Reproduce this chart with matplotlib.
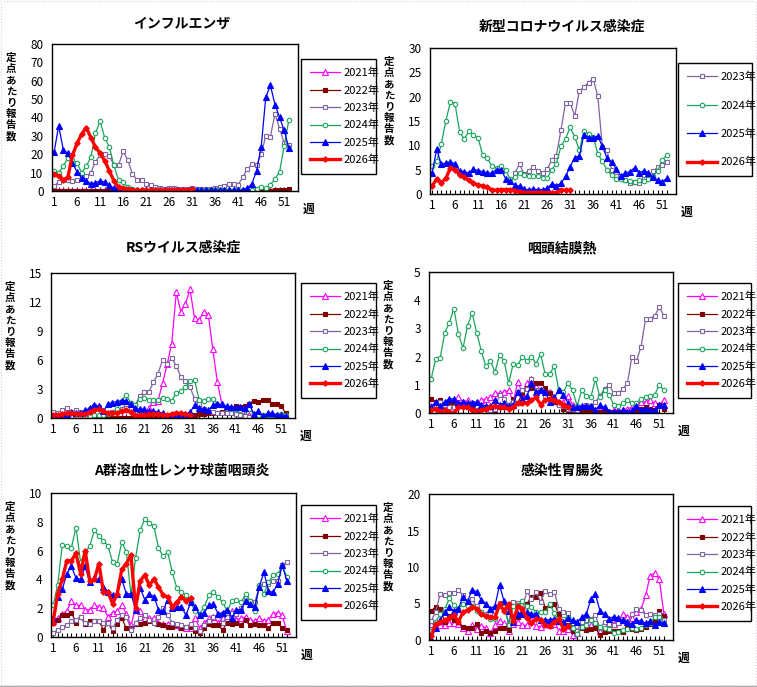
import numpy as np
import matplotlib
matplotlib.use("Agg")
import matplotlib.pyplot as plt
from matplotlib.patches import Rectangle
from matplotlib.lines import Line2D

plt.rcParams['font.family'] = ['Noto Sans CJK JP', 'DejaVu Sans']

# ---------------- data ----------------
weeks = list(range(1, 53))
week_ticks = [1, 6, 11, 16, 21, 26, 31, 36, 41, 46, 51]
years = ["2021年", "2022年", "2023年", "2024年", "2025年", "2026年"]
N = None

# インフルエンザ
flu_2021 = [0.0, 0.0, 0.0, 0.0, 0.0, 0.0, 0.0, 0.0, 0.0, 0.0, 0.0, 0.0, 0.0,
            0.0, 0.0, 0.0, 0.0, 0.0, 0.0, 0.0, 0.0, 0.0, 0.0, 0.0, 0.0, 0.0,
            0.0, 0.0, 0.0, 0.0, 0.0, 0.0, 0.0, 0.0, 0.0, 0.0, 0.0, 0.0, 0.0,
            0.0, 0.0, 0.0, 0.0, 0.0, 0.0, 0.0, 0.0, 0.0, 0.0, 0.0, 0.0, 0.0]
flu_2022 = [0.3, 0.2, 0.2, 0.2, 0.2, 0.2, 0.2, 0.2, 0.2, 0.2, 0.2, 0.2, 0.2,
            0.2, 0.2, 0.2, 0.1, 0.1, 0.1, 0.1, 0.1, 0.1, 0.1, 0.1, 0.1, 0.1,
            0.1, 0.1, 0.1, 0.1, 0.1, 0.1, 0.1, 0.1, 0.1, 0.1, 0.1, 0.1, 0.1,
            0.1, 0.1, 0.1, 0.1, 0.1, 0.1, 0.1, 0.2, 0.2, 0.3, 0.5, 0.8, 1.0]
flu_2023 = [2.5, 5.0, 6.0, 6.0, 5.5, 6.0, 6.5, 8.0, 10.0, 16.0, 19.5, 20.0, 19.0,
            14.0, 14.0, 21.5, 17.0, 9.5, 6.0, 6.0, 4.0, 3.0, 2.0, 1.5, 1.0, 1.5,
            1.5, 1.0, 1.0, 1.0, 1.5, 1.0, 1.0, 1.0, 1.0, 1.5, 2.0, 2.5, 4.0,
            4.0, 3.5, 7.5, 12.0, 14.5, 14.0, 20.0, 30.0, 29.5, 42.0, 34.0, 26.0, 25.0]
flu_2024 = [11.0, 10.0, 13.5, 18.0, 17.0, 15.0, 10.0, 13.5, 18.5, 31.5, 38.0, 29.0, 24.0,
            14.0, 6.0, 5.0, 2.0, 1.0, 0.5, 0.4, 0.3, 0.3, 0.3, 0.3, 0.3, 0.3,
            0.3, 0.3, 0.3, 0.3, 0.3, 0.3, 0.3, 0.3, 0.3, 0.3, 0.3, 0.3, 0.3,
            0.3, 0.3, 0.3, 0.3, 0.5, 1.0, 2.0, 1.5, 3.5, 6.5, 10.5, 24.5, 38.5]
flu_2025 = [21.0, 35.5, 22.5, 20.5, 15.0, 10.5, 7.0, 5.5, 4.0, 4.5, 5.5, 5.0, 3.0,
            1.5, 1.0, 1.0, 0.8, 0.5, 0.3, 0.3, 0.3, 0.3, 0.3, 0.3, 0.3, 0.3,
            0.3, 0.3, 0.3, 0.3, 0.3, 0.3, 0.3, 0.3, 0.3, 0.3, 0.3, 0.3, 0.3,
            0.3, 0.3, 0.5, 1.5, 4.0, 11.0, 24.0, 51.0, 57.5, 47.0, 40.0, 33.0, 23.5]
flu_2026 = [9.0, 8.0, 6.0, 7.5, 19.5, 26.0, 31.0, 34.5, 29.0, 24.0, 20.5, 16.5, 11.0,
            5.5, 2.0, 1.5, 1.0, 0.7, 0.5, 0.3, 0.3, 0.3, 0.3, 0.3, 0.3, 0.5,
            0.5, 0.5, 0.7, 0.7, 1.0]

# 新型コロナウイルス感染症
cov_2023 = [N, N, N, N, N, N, N, N, N, N, N, N, N, N, N, N, N, N,
            4.4, 6.1, 4.1, 4.8, 5.5, 4.8, 4.3, 5.1, 6.9, 7.9, 13.1, 18.8, 18.8,
            16.0, 21.2, 21.9, 22.9, 23.7, 20.1, 9.7, 9.0, 5.0, 3.6, 3.3, 2.8,
            2.2, 2.4, 2.2, 3.1, 3.8, 4.7, 5.5, 5.9, 6.6]
cov_2024 = [5.7, 6.7, 10.3, 15.0, 19.0, 18.5, 12.7, 11.3, 12.9, 12.1, 11.5, 8.0, 7.3,
            5.8, 5.3, 5.7, 4.9, 3.0, 3.5, 4.4, 3.9, 3.8, 3.6, 3.8, 3.3, 3.2,
            5.0, 6.2, 9.8, 11.3, 13.7, 11.7, 9.0, 12.9, 12.3, 11.8, 8.3, 6.7, 5.0,
            3.9, 3.1, 3.0, 2.8, 2.6, 2.5, 2.8, 2.6, 3.1, 3.7, 4.8, 6.9, 8.0]
cov_2025 = [4.3, 9.2, 6.1, 6.4, 6.6, 6.2, 4.8, 4.6, 4.3, 5.1, 4.8, 4.6, 4.3,
            4.3, 5.0, 5.0, 3.1, 2.6, 1.8, 1.6, 1.1, 0.8, 1.0, 0.9, 0.9, 1.2,
            2.1, 1.7, 2.2, 3.6, 5.6, 7.5, 7.8, 12.2, 11.6, 11.6, 11.9, 9.8, 7.4,
            6.6, 5.2, 3.7, 4.3, 4.6, 5.4, 4.3, 4.8, 4.4, 3.4, 2.9, 2.5, 3.2]
cov_2026 = [1.6, 3.1, 2.3, 3.2, 5.4, 5.0, 4.0, 3.4, 2.8, 2.3, 1.8, 1.7, 1.4,
            0.8, 0.8, 0.9, 0.9, 0.9, 0.7, 0.5, 0.3, 0.3, 0.3, 0.3, 0.3, 0.3,
            0.3, 0.3, 0.8, 0.8, 0.8]

# RSウイルス感染症
rs_2021 = [0.05, 0.05, 0.05, 0.05, 0.05, 0.05, 0.05, 0.05, 0.05, 0.05, 0.05, 0.05, 0.05,
           0.05, 0.05, 0.05, 0.05, 0.05, 0.05, 0.1, 0.4, 1.0, 1.7, 1.8, 3.6, 5.6,
           7.7, 13.0, 11.0, 11.8, 13.3, 10.3, 10.1, 11.0, 10.7, 7.1, 3.7, 1.4, 0.9,
           0.7, 0.6, 0.5, 0.4, 0.3, 0.1, 0.05, 0.05, 0.05, 0.05, 0.05, 0.05, 0.05]
rs_2022 = [0.05, 0.05, 0.05, 0.05, 0.05, 0.05, 0.05, 0.05, 0.05, 0.05, 0.05, 0.05, 0.05,
           0.05, 0.05, 0.05, 0.05, 0.05, 0.05, 0.05, 0.05, 0.05, 0.1, 0.1, 0.1, 0.1,
           0.1, 0.1, 0.1, 0.1, 0.3, 0.3, 0.4, 0.4, 0.5, 0.5, 0.5, 0.6, 0.8,
           1.0, 1.2, 1.1, 1.2, 1.5, 1.8, 1.7, 1.9, 1.9, 1.5, 1.5, 1.2, 0.5]
rs_2023 = [0.6, 0.5, 0.8, 1.0, 0.6, 0.8, 0.6, 0.6, 0.9, 1.2, 1.1, 0.7, 0.5,
           0.6, 0.7, 0.9, 1.4, 0.9, 1.3, 2.3, 2.7, 2.7, 3.7, 4.6, 6.0, 5.6,
           6.2, 5.4, 4.2, 3.8, 3.2, 2.0, 1.4, 0.9, 0.7, 0.6, 0.5, 0.5, 0.5,
           0.5, 0.4, 0.3, 0.2, 0.1, 0.1, 0.05, 0.05, 0.05, 0.05, 0.05, 0.05, 0.05]
rs_2024 = [0.1, 0.1, 0.1, 0.1, 0.2, 0.2, 0.2, 0.2, 0.2, 0.3, 0.3, 0.3, 0.4,
           0.5, 0.9, 1.8, 2.4, 1.6, 1.3, 2.0, 2.1, 1.9, 1.9, 1.9, 2.1, 2.0,
           1.8, 2.6, 2.8, 3.2, 3.8, 3.9, 1.9, 1.8, 2.0, 2.0, 1.5, 1.3, 1.0,
           0.9, 0.9, 0.8, 0.8, 0.9, 0.4, 0.3, 0.3, 0.3, 0.3, 0.3, 0.4, 0.3]
rs_2025 = [0.2, 0.2, 0.3, 0.4, 0.6, 0.5, 0.5, 0.8, 1.0, 1.3, 1.2, 0.7, 1.4,
           1.6, 1.7, 1.8, 1.8, 1.5, 1.0, 0.9, 0.9, 0.7, 0.7, 0.6, 0.5, 0.2,
           0.2, 0.3, 0.3, 0.4, 0.6, 1.3, 1.0, 0.9, 0.8, 1.3, 1.4, 1.4, 1.2,
           1.1, 1.1, 1.1, 1.0, 1.4, 0.4, 0.7, 0.2, 0.5, 0.5, 0.3, 0.3, 0.2]
rs_2026 = [0.3, 0.3, 0.4, 0.5, 0.5, 0.4, 0.4, 0.4, 0.6, 0.8, 0.9, 0.7, 0.5,
           0.5, 0.5, 0.7, 0.8, 0.6, 0.3, 0.3, 0.3, 0.4, 0.4, 0.4, 0.3, 0.3,
           0.4, 0.5, 0.5, 0.4, 0.3]

# 咽頭結膜熱
pcf_2021 = [0.25, 0.3, 0.35, 0.3, 0.35, 0.4, 0.55, 0.4, 0.45, 0.35, 0.35, 0.45, 0.5,
            0.55, 0.7, 0.7, 0.75, 0.8, 0.4, 1.1, 0.7, 1.05, 1.2, 0.95, 0.8, 0.85,
            0.75, 0.5, 0.4, 0.4, 0.6, 0.3, 0.2, 0.05, 0.05, 0.1, 0.1, 0.1, 0.1,
            0.05, 0.1, 0.1, 0.1, 0.15, 0.2, 0.3, 0.4, 0.4, 0.45, 0.35, 0.3, 0.45]
pcf_2022 = [0.5, 0.4, 0.45, 0.2, 0.35, 0.35, 0.25, 0.25, 0.2, 0.15, 0.15, 0.15, 0.15,
            0.1, 0.05, 0.2, 0.2, 0.25, 0.5, 0.35, 0.7, 0.9, 0.9, 1.05, 1.05, 0.9,
            0.7, 0.4, 0.3, 0.15, 0.1, 0.05, 0.05, 0.05, 0.05, 0.05, 0.05, 0.05, 0.05,
            0.05, 0.05, 0.05, 0.05, 0.05, 0.05, 0.1, 0.15, 0.2, 0.15, 0.1, 0.3, 0.15]
pcf_2023 = [0.15, 0.3, 0.4, 0.3, 0.2, 0.2, 0.3, 0.25, 0.3, 0.35, 0.25, 0.2, 0.15,
            0.1, 0.15, 0.65, 0.5, 0.3, 0.4, 0.75, 0.8, 0.85, 1.2, 0.8, 0.8, 0.6,
            0.5, 0.45, 0.3, 0.25, 0.15, 0.15, 0.1, 0.2, 0.3, 0.25, 0.4, 0.6, 0.85,
            1.0, 0.7, 0.7, 0.85, 1.05, 2.0, 1.85, 2.35, 3.35, 3.35, 3.45, 3.75, 3.45]
pcf_2024 = [1.2, 1.9, 1.95, 2.85, 3.2, 3.7, 2.8, 2.3, 3.1, 3.55, 2.85, 2.2, 1.65,
            1.85, 1.45, 2.05, 1.85, 1.05, 1.75, 1.7, 2.0, 1.85, 2.0, 1.75, 2.08, 1.38,
            1.4, 1.65, 0.8, 0.75, 1.05, 0.8, 0.25, 0.8, 0.6, 0.55, 1.2, 0.55, 0.8,
            0.65, 0.3, 0.25, 0.35, 0.45, 0.35, 0.35, 0.5, 0.55, 0.6, 0.65, 1.0, 0.8]
pcf_2025 = [0.2, 0.4, 0.25, 0.4, 0.5, 0.5, 0.35, 0.4, 0.35, 0.35, 0.4, 0.3, 0.25,
            0.25, 0.45, 0.3, 0.35, 0.25, 0.3, 0.75, 0.5, 0.6, 1.05, 0.75, 0.8, 0.75,
            0.4, 0.55, 0.8, 0.65, 0.35, 0.2, 0.2, 0.25, 0.25, 0.25, 0.1, 0.3, 0.2,
            0.05, 0.05, 0.05, 0.1, 0.05, 0.1, 0.25, 0.1, 0.15, 0.1, 0.1, 0.3, 0.3]
pcf_2026 = [0.1, 0.15, 0.05, 0.1, 0.05, 0.0, 0.2, 0.2, 0.2, 0.1, 0.05, 0.1, 0.15,
            0.2, 0.25, 0.2, 0.2, 0.15, 0.2, 0.35, 0.35, 0.35, 0.45, 0.55, 0.3, 0.45,
            0.5, 0.45, 0.4, 0.3, 0.2]

# A群溶血性レンサ球菌咽頭炎
gas_2021 = [1.1, 1.3, 1.6, 1.8, 2.5, 2.2, 2.2, 1.9, 1.9, 2.2, 2.1, 2.0, 1.4,
            1.7, 1.8, 2.2, 1.6, 0.8, 2.0, 1.8, 1.3, 1.3, 1.3, 1.0, 0.9, 0.9,
            0.9, 0.8, 0.7, 0.6, 0.6, 1.3, 0.6, 1.0, 1.3, 1.4, 1.0, 1.3, 1.3,
            1.8, 1.2, 1.3, 1.4, 1.2, 1.1, 1.3, 1.1, 1.2, 1.6, 1.7, 1.5, 0.4]
gas_2022 = [1.0, 1.2, 1.5, 1.5, 1.7, 1.0, 1.4, 0.9, 1.1, 1.1, 1.1, 0.5, 1.0,
            0.4, 0.9, 1.3, 0.6, 0.6, 0.9, 0.9, 1.0, 1.1, 1.0, 0.9, 0.8, 0.7,
            0.7, 0.8, 0.6, 0.7, 0.7, 0.4, 0.3, 0.6, 0.9, 0.8, 0.8, 0.5, 1.0,
            0.9, 1.0, 0.8, 1.2, 0.8, 0.9, 0.8, 0.8, 0.6, 1.0, 1.0, 0.6, 0.5]
gas_2023 = [0.3, 0.5, 0.7, 0.8, 1.1, 1.2, 1.4, 1.0, 0.9, 1.1, 1.1, 1.0, 1.0,
            0.6, 1.2, 1.5, 1.4, 0.5, 1.0, 1.3, 1.5, 1.2, 1.0, 1.4, 2.0, 1.5,
            1.0, 0.9, 0.8, 0.7, 0.9, 0.6, 0.4, 0.8, 1.1, 1.4, 1.5, 1.0, 1.4,
            1.7, 1.6, 2.0, 2.8, 2.5, 2.4, 3.5, 3.7, 3.7, 3.9, 3.9, 5.0, 5.2]
gas_2024 = [2.2, 3.6, 6.4, 6.3, 6.2, 7.6, 5.2, 5.9, 6.3, 7.4, 7.0, 6.7, 6.3,
            5.2, 5.1, 6.6, 5.9, 2.9, 5.5, 7.4, 8.2, 7.9, 7.7, 6.2, 5.6, 5.9,
            4.5, 3.4, 3.1, 2.9, 2.4, 1.8, 1.6, 2.1, 2.9, 3.1, 2.8, 2.4, 1.8,
            2.5, 2.6, 2.4, 3.0, 2.5, 1.8, 3.6, 3.0, 3.8, 4.3, 4.4, 4.9, 4.2]
gas_2025 = [1.3, 2.8, 3.3, 4.4, 4.9, 4.1, 4.0, 4.9, 3.8, 4.1, 4.0, 3.5, 3.1,
            2.9, 3.0, 4.0, 3.0, 3.0, 1.9, 3.4, 2.6, 3.0, 2.8, 1.9, 1.8, 2.6,
            2.0, 2.1, 2.1, 1.5, 2.4, 2.1, 1.5, 1.7, 2.2, 2.3, 1.6, 1.7, 1.9,
            1.3, 1.9, 1.9, 2.5, 2.3, 2.1, 3.5, 4.5, 3.2, 3.1, 3.7, 5.0, 3.9]
gas_2026 = [1.0, 3.0, 4.0, 5.3, 5.3, 5.8, 4.4, 6.0, 3.9, 4.0, 5.1, 3.1, 3.1,
            2.3, 3.0, 4.7, 5.1, 5.7, 2.0, 3.9, 4.3, 3.6, 4.0, 3.5, 2.9, 2.8,
            2.1, 2.4, 2.8, 2.5, 2.7]

# 感染性胃腸炎
ge_2021 = [2.2, 2.2, 2.1, 2.1, 2.3, 2.3, 2.2, 1.7, 1.3, 2.0, 1.5, 1.9, 1.7,
           1.0, 2.0, 2.6, 2.3, 1.3, 2.2, 2.5, 2.0, 2.0, 2.7, 1.9, 1.8, 2.2,
           2.0, 2.2, 1.3, 1.2, 1.5, 0.7, 1.0, 1.8, 2.0, 2.0, 2.0, 1.3, 1.5,
           2.3, 2.2, 2.4, 3.6, 3.2, 3.0, 3.8, 4.2, 6.1, 8.8, 9.2, 8.3, 3.6]
ge_2022 = [4.0, 4.5, 4.3, 2.5, 3.3, 2.7, 2.5, 1.8, 1.6, 1.6, 2.2, 1.0, 1.3,
           0.9, 1.3, 1.6, 1.6, 1.4, 2.6, 3.2, 4.0, 5.0, 5.9, 5.9, 6.5, 4.4,
           4.8, 5.0, 3.5, 2.4, 2.0, 1.2, 1.2, 1.6, 1.4, 1.5, 1.6, 0.7, 1.1,
           1.2, 1.3, 1.2, 1.1, 1.6, 1.5, 1.4, 1.5, 1.8, 2.2, 2.6, 4.0, 3.3]
ge_2023 = [2.6, 3.8, 6.3, 6.2, 6.4, 6.5, 6.8, 6.1, 5.0, 5.6, 4.6, 3.9, 3.5,
           3.5, 4.0, 5.1, 4.9, 2.3, 5.2, 5.1, 4.3, 6.7, 5.6, 6.6, 5.2, 6.7,
           6.3, 6.6, 4.3, 3.8, 3.7, 2.3, 1.3, 2.5, 2.7, 2.9, 3.4, 1.6, 2.5,
           2.2, 2.0, 2.3, 2.6, 2.4, 3.5, 4.3, 4.1, 3.4, 3.6, 3.4, 3.5, 2.8]
ge_2024 = [1.2, 2.5, 3.5, 4.2, 5.7, 4.8, 4.3, 4.9, 4.6, 4.7, 4.0, 3.8, 3.3,
           2.9, 2.9, 4.6, 4.5, 2.1, 4.7, 4.8, 5.3, 4.6, 4.5, 3.8, 3.8, 3.8,
           4.9, 3.7, 2.5, 2.9, 3.2, 1.6, 0.8, 1.8, 2.0, 2.7, 2.3, 1.8, 1.7,
           1.5, 1.0, 1.1, 1.4, 1.5, 1.6, 1.5, 1.7, 2.0, 2.3, 3.2, 3.2, 2.2]
ge_2025 = [0.1, 1.6, 2.7, 3.8, 4.5, 4.0, 4.3, 5.9, 5.3, 6.9, 6.6, 5.5, 5.0,
           4.3, 4.7, 7.5, 5.3, 4.0, 2.4, 3.5, 3.5, 3.8, 3.6, 3.5, 2.8, 2.7,
           2.8, 2.9, 2.6, 2.4, 3.0, 2.7, 2.5, 3.1, 3.5, 5.6, 6.3, 4.0, 3.6,
           2.9, 3.2, 3.0, 2.7, 2.4, 2.2, 2.7, 2.6, 2.3, 2.6, 2.0, 2.5, 2.3]
ge_2026 = [0.5, 2.2, 2.4, 2.7, 3.0, 3.4, 2.5, 3.8, 4.1, 4.5, 4.3, 3.6, 3.3,
           3.1, 3.1, 4.9, 4.0, 5.0, 2.6, 4.6, 4.2, 3.0, 2.3, 2.9, 2.8, 2.0,
           1.9, 2.4, 2.9, 1.5, 1.9]

# ---------------- styling ----------------
W, H = 757, 687
fig = plt.figure(figsize=(W / 100, H / 100), dpi=100)
fig.patch.set_facecolor("white")

styles = {
    "2021年": dict(color="#FF00FF", marker="^", mfc="white", mec="#FF00FF", ms=4.0, lw=0.9, mew=0.8),
    "2022年": dict(color="#800000", marker="s", mfc="#800000", mec="#800000", ms=3.3, lw=0.9, mew=0.8),
    "2023年": dict(color="#8064A2", marker="s", mfc="white", mec="#8064A2", ms=3.5, lw=0.9, mew=0.8),
    "2024年": dict(color="#1AA55A", marker="o", mfc="white", mec="#1AA55A", ms=3.2, lw=0.9, mew=0.8),
    "2025年": dict(color="#0000FF", marker="^", mfc="#0000FF", mec="#0000FF", ms=4.5, lw=0.9, mew=0.8),
    "2026年": dict(color="#FF0000", marker="D", mfc="#FF0000", mec="#FF0000", ms=2.8, lw=2.4, mew=0.8),
}

panels = [
    dict(title="インフルエンザ", ymax=80, yticks=[0, 10, 20, 30, 40, 50, 60, 70, 80],
         series=[flu_2021, flu_2022, flu_2023, flu_2024, flu_2025, flu_2026], labels=years,
         box=(52, 44, 298, 191), leg=(301, 59, 376, 172), tpos=(182, 24)),
    dict(title="新型コロナウイルス感染症", ymax=30, yticks=[0, 5, 10, 15, 20, 25, 30],
         series=[cov_2023, cov_2024, cov_2025, cov_2026], labels=years[2:],
         box=(430, 48, 676, 194), leg=(678, 63, 752, 176), tpos=(562, 27)),
    dict(title="RSウイルス感染症", ymax=15, yticks=[0, 3, 6, 9, 12, 15],
         series=[rs_2021, rs_2022, rs_2023, rs_2024, rs_2025, rs_2026], labels=years,
         box=(51, 273, 295, 418), leg=(301, 283, 376, 397), tpos=(183, 248)),
    dict(title="咽頭結膜熱", ymax=5, yticks=[0, 1, 2, 3, 4, 5],
         series=[pcf_2021, pcf_2022, pcf_2023, pcf_2024, pcf_2025, pcf_2026], labels=years,
         box=(429, 272, 673, 413), leg=(678, 283, 751, 393), tpos=(562, 248)),
    dict(title="A群溶血性レンサ球菌咽頭炎", ymax=10, yticks=[0, 2, 4, 6, 8, 10],
         series=[gas_2021, gas_2022, gas_2023, gas_2024, gas_2025, gas_2026], labels=years,
         box=(51, 493, 296, 637), leg=(301, 505, 376, 615), tpos=(182, 471)),
    dict(title="感染性胃腸炎", ymax=20, yticks=[0, 5, 10, 15, 20],
         series=[ge_2021, ge_2022, ge_2023, ge_2024, ge_2025, ge_2026], labels=years,
         box=(429, 494, 673, 640), leg=(678, 506, 751, 619), tpos=(562, 471)),
]

def fx(px):
    return px / W

def fy(py):
    return 1 - py / H

for p in panels:
    l, t, r, b = p["box"]
    ax = fig.add_axes([fx(l), fy(b), (r - l) / W, (b - t) / H])
    for vals, lab in zip(p["series"], p["labels"]):
        y = np.array([np.nan if v is None else v for v in vals], dtype=float)
        x = weeks[:len(y)]
        st = styles[lab]
        ax.plot(x, y, color=st["color"], lw=st["lw"], marker=st["marker"],
                markerfacecolor=st["mfc"], markeredgecolor=st["mec"],
                markersize=st["ms"], markeredgewidth=st["mew"], label=lab)
    ax.set_xlim(0.55, 54.0)
    ax.set_ylim(0, p["ymax"])
    ax.set_xticks(week_ticks)
    ax.set_xticklabels([str(w) for w in week_ticks], fontsize=8.5)
    ax.set_xticks(weeks, minor=True)
    ax.set_yticks(p["yticks"])
    ax.set_yticklabels([str(v) for v in p["yticks"]], fontsize=8.5)
    ax.tick_params(axis="x", which="both", direction="in", length=3, width=0.8, pad=3.5)
    ax.tick_params(axis="y", which="both", length=0, pad=6)
    for s in ax.spines.values():
        s.set_linewidth(1.0)
        s.set_color("black")
    # legend
    ll, lt, lr, lb = p["leg"]
    n = len(p["labels"])
    spacing = 0.63 if n == 6 else 1.62
    leg = ax.legend(loc="upper left",
                    bbox_to_anchor=(fx(ll), fy(lt), (lr - ll) / W, 0),
                    bbox_transform=fig.transFigure, mode="expand",
                    fontsize=8, frameon=True, fancybox=False, framealpha=1,
                    edgecolor="black", handlelength=2.7, handletextpad=0.35,
                    labelspacing=spacing, borderpad=0.8, borderaxespad=0)
    leg.get_frame().set_linewidth(1.0)
    # title
    fig.text(fx(p["tpos"][0]), fy(p["tpos"][1]), p["title"], ha="center", va="center",
             fontsize=10, fontweight="bold")
    # y label (stacked vertical)
    fig.text(fx(l - 41), fy(t + 53), "\n".join("定点あたり報告数"), ha="center", va="center",
             fontsize=7.5, fontweight="bold", linespacing=1.15)
    # 週
    fig.text(fx(r + 5), fy(b + 18), "週", ha="left", va="center",
             fontsize=8.5, fontweight="bold")

# outer border
fig.patches.append(Rectangle((0.5 / W, 2 / H), 1 - 1.5 / W, 1 - 2.5 / H, transform=fig.transFigure,
                             fill=False, edgecolor="#E8C8E8", lw=0.8, linestyle=":"))
fig.lines.append(Line2D([0, 1], [1.5 / H, 1.5 / H], transform=fig.transFigure,
                        color="#B0B0B0", lw=1.0))

fig.savefig("out.png", dpi=100, facecolor="white")
